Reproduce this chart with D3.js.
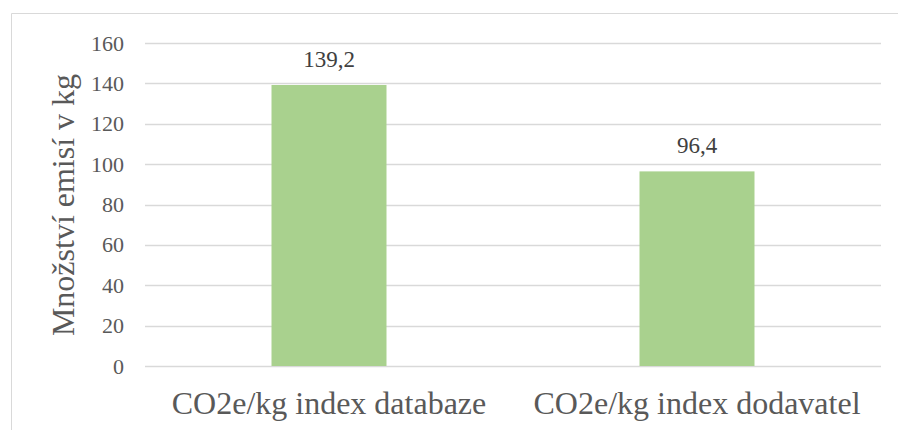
<!DOCTYPE html>
<html><head><meta charset="utf-8">
<script src="https://cdn.jsdelivr.net/npm/d3@7"></script>
<style>
body{margin:0;background:#fff}
#wrap{position:relative;width:898px;height:430px;overflow:hidden}
#wrap svg{position:absolute;left:0;top:0;display:block}
.lbl{position:absolute;white-space:nowrap;line-height:0;height:0;font-family:"Liberation Serif","Times New Roman",serif;transform-origin:0 0}
</style>
</head><body>
<div id="wrap"></div>
<script>
const categories = ["CO2e/kg index databaze", "CO2e/kg index dodavatel"];
const values = [139.2, 96.4];
const valueLabels = ["139,2", "96,4"];
const yTicks = [0, 20, 40, 60, 80, 100, 120, 140, 160];
const yTitle = "Množství emisí v kg";

const W = 898, H = 430;
const m = {left: 145, right: 17, top: 43, bottom: 64};
const BASE = 0.3375; // (ascent - descent)/2 of Liberation Serif, in em

const wrap = d3.select("#wrap");
const svg = wrap.append("svg").attr("width", W).attr("height", H);

// chart border
svg.append("path").attr("d", `M11.5,${H} V13.5 H${W}`)
  .attr("fill", "none").attr("stroke", "#d9d9d9").attr("stroke-width", 1);

const x = d3.scaleBand().domain(categories).range([m.left, W - m.right]).paddingInner(0.6875).paddingOuter(0.34375);
const y = d3.scaleLinear().domain([0, 160]).range([H - m.bottom, m.top]);

// gridlines
svg.append("g").selectAll("line").data(y.ticks ? yTicks : []).join("line")
  .attr("x1", m.left).attr("x2", W - m.right)
  .attr("y1", d => Math.round(y(d)) + 0.5).attr("y2", d => Math.round(y(d)) + 0.5)
  .attr("stroke", "#d9d9d9").attr("stroke-width", 1.3);

// bars
svg.append("g").selectAll("rect").data(values).join("rect")
  .attr("x", (d, i) => x(categories[i]))
  .attr("width", x.bandwidth())
  .attr("y", d => y(d))
  .attr("height", d => y(0) - y(d))
  .attr("fill", "#a9d18e");

// helper: HTML text positioned by baseline
function label(sel, size, color, anchor) {
  const tx = anchor === "middle" ? "-50%" : anchor === "end" ? "-100%" : "0";
  return sel.append("div").attr("class", "lbl")
    .style("font-size", size + "px").style("color", color)
    .style("transform", `translate(${tx}, ${-BASE}em)`);
}

// y tick labels
yTicks.forEach(t => {
  label(wrap, 22, "#595959", "end")
    .style("left", (m.left - 21) + "px")
    .style("top", (y(t) + 7.5) + "px")
    .text(String(t));
});

// value labels
values.forEach((v, i) => {
  label(wrap, 23, "#404040", "middle")
    .style("left", (x(categories[i]) + x.bandwidth() / 2) + "px")
    .style("top", (y(v) - 17) + "px")
    .text(valueLabels[i]);
});

// category labels
categories.forEach(c => {
  label(wrap, 32, "#595959", "middle")
    .style("left", (x(c) + x.bandwidth() / 2) + "px")
    .style("top", (y(0) + 48) + "px")
    .text(c);
});

// y title (rotated)
wrap.append("div").attr("class", "lbl")
  .style("font-size", "32px").style("color", "#595959")
  .style("left", "74px")
  .style("top", ((y(0) + y(160)) / 2) + "px")
  .style("transform", `rotate(-90deg) translate(-50%, ${-BASE}em)`)
  .text(yTitle);
</script>
</body></html>
